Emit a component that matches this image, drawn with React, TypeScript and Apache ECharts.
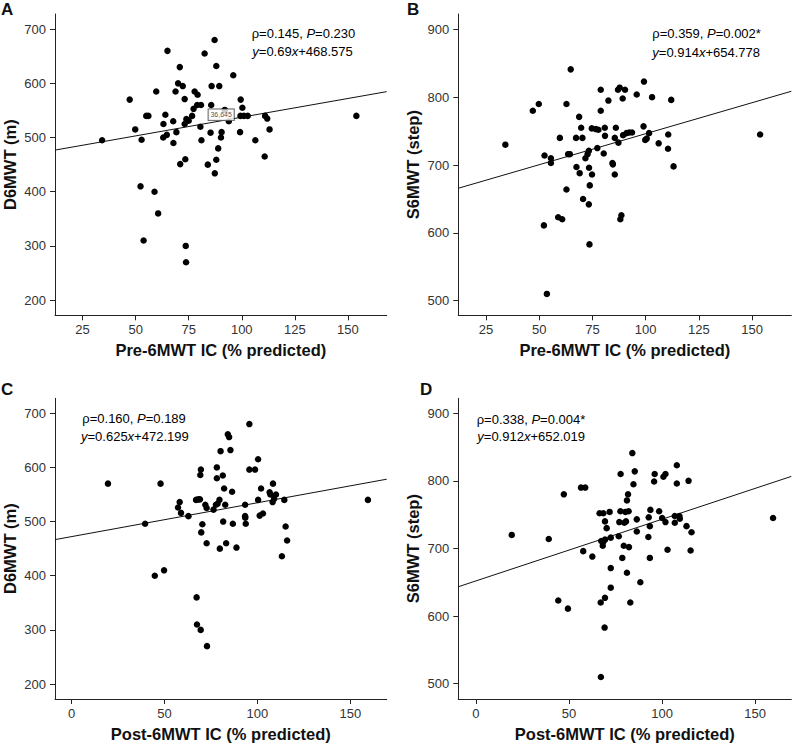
import React, { useEffect, useRef } from "react";
import * as echarts from "echarts";

// ---------- Data ----------
// Panel A: Pre-6MWT IC (% predicted) vs D6MWT (m)
const pointsA: number[][] = [
  [34.2, 495], [47.2, 570], [49.8, 515], [52.8, 496], [55, 540], [56, 540], [59.7, 585], [64, 542],
  [65, 660], [63.1, 525], [63, 500], [64.7, 505], [67.7, 530], [67.8, 490], [69.2, 510], [70, 600],
  [70.8, 630], [72.2, 595], [68.8, 585], [71, 451], [73.4, 460], [73.1, 571], [73.1, 525], [73.9, 534],
  [75, 531], [76.6, 540], [77.8, 585], [79.2, 579], [77.3, 553], [79, 560], [80.8, 560], [80.5, 520],
  [81, 495], [82.5, 655], [84, 450], [85.3, 509], [85.6, 560], [85.8, 595], [87.2, 680], [88, 632],
  [89.4, 595], [87.3, 434], [88, 459], [88.9, 480], [90.2, 500], [90.5, 510], [92, 551], [93.9, 530],
  [96, 615], [99.5, 570], [100.3, 555], [99.4, 540], [101, 540], [102.8, 540], [99.2, 510], [106.4, 495],
  [111, 540], [112, 535], [110.8, 465], [113.1, 515], [154, 540], [52.3, 410], [58.9, 400], [60.6, 360],
  [53.75, 310], [73.6, 300], [73.75, 270],
];
// Panel B: Pre-6MWT IC (% predicted) vs S6MWT (step)
const pointsB: number[][] = [
  [34.1, 730], [47, 780], [49.8, 790], [52.5, 714], [55.5, 710], [55.5, 703], [59.7, 740], [62.8, 790],
  [64.8, 841], [63.6, 716], [64.4, 716], [67.5, 697], [68.75, 771], [69.7, 755], [67.3, 740], [70.3, 740],
  [69, 688], [71.7, 710], [72.7, 716], [73.3, 721], [73.4, 696], [74.8, 686], [74.7, 754], [76.6, 753],
  [77.8, 752], [77.3, 725], [78.9, 811], [78.9, 780], [80.3, 717], [80.8, 755], [80.9, 743], [82.5, 795],
  [84.4, 703], [84.6, 701], [85.5, 686], [85.5, 740], [86, 755], [87.2, 733], [87, 811], [87.8, 814],
  [90.3, 811], [89.2, 798], [89.4, 744], [91, 747], [92.3, 748], [93.6, 748], [95.8, 804], [99.2, 823],
  [99, 757], [99.8, 737], [100.5, 739], [101.6, 747], [103, 800], [106.1, 732], [110.6, 745], [110.5, 724],
  [112, 796], [113.1, 698], [153.75, 745], [62.8, 664], [73.75, 670], [70.6, 650], [73.3, 642], [58.9, 623],
  [60.8, 620], [52.2, 611], [88.6, 626], [88.1, 620], [73.6, 583], [53.6, 510],
];
// Panel C: Post-6MWT IC (% predicted) vs D6MWT (m)
const pointsC: number[][] = [
  [19.6, 570], [39.6, 496], [47.9, 570], [57.3, 526], [58.2, 536], [58.9, 516], [62.9, 510], [67, 540],
  [68.2, 541], [69.1, 541], [69.6, 596], [69.3, 586], [70.4, 495], [69.8, 480], [72, 531], [72.7, 525],
  [72.7, 460], [76.4, 522], [77.7, 531], [78.6, 533], [78.2, 600], [78.2, 580], [80.2, 630], [79.6, 540],
  [81.4, 585], [81.6, 500], [82.1, 561], [82.7, 531], [83.2, 460], [84.1, 661], [84.8, 656], [85.5, 632],
  [86.4, 555], [86.8, 496], [79.8, 450], [88.75, 452], [93.4, 531], [93.4, 510], [93.75, 496], [93.5, 507],
  [95.7, 680], [95.7, 596], [98.75, 596], [100.4, 615], [102, 561], [100.4, 540], [101.25, 511], [103, 515],
  [106.6, 554], [107, 550], [108.4, 570], [108.2, 536], [109, 542], [110, 550], [114.5, 540], [115.2, 491],
  [116, 465], [159.5, 540], [113.2, 436], [44.8, 400], [49.8, 410], [67.3, 360], [67.5, 310], [69.5, 300],
  [72.9, 270],
];
// Panel D: Post-6MWT IC (% predicted) vs S6MWT (step)
const pointsD: number[][] = [
  [19.2, 720], [39.1, 714], [47.2, 780], [56.4, 790], [58.7, 790], [66.4, 752], [68.4, 752], [71.8, 754],
  [69.3, 740], [70.2, 730], [67.3, 711], [68.4, 710], [69.3, 713], [68.1, 704], [72.4, 716], [76.7, 718],
  [77.7, 810], [77.6, 755], [80.3, 754], [77, 739], [79.7, 738], [80.6, 740], [82, 755], [81.7, 780],
  [81.1, 771], [84, 841], [85.3, 814], [84.6, 795], [86.4, 743], [86.4, 725], [79.4, 704], [82.2, 702],
  [92.8, 746], [93.7, 757], [93.4, 733], [92.6, 717], [95.7, 799], [96, 810], [100.7, 806], [101.8, 810],
  [98.4, 755], [100, 745], [101.8, 739], [107.9, 823], [107.9, 796], [106.8, 748], [109.3, 748], [109.5, 744],
  [106.8, 738], [114.2, 800], [113.1, 733], [115.8, 724], [159.6, 745], [57.6, 696], [62.5, 688], [78.6, 686],
  [72.4, 671], [81.1, 664], [88.3, 650], [93.4, 686], [102.9, 698], [115.3, 697], [72.4, 642], [44.2, 623],
  [49.4, 611], [67, 620], [69.3, 627], [82.9, 620], [69.1, 583], [67.1, 510],
];

// Fitted regression lines as printed on the chart: [slope, intercept]
const fitA = [0.69, 468.575];
const fitB = [0.914, 654.778];
const fitC = [0.625, 472.199];
const fitD = [0.912, 652.019];

// Annotation texts
const rhoTexts = ["0.145", "0.359", "0.160", "0.338"];
const pTexts = ["0.230", "0.002*", "0.189", "0.004*"];
const slopeTexts = ["0.69", "0.914", "0.625", "0.912"];
const interceptTexts = ["468.575", "654.778", "472.199", "652.019"];
const panelLetters = ["A", "B", "C", "D"];

// Labelled case in panel A
const caseLabelA = "36,645";
const caseLabelPosA = [90.3, 542];

// Tick labels
const xTicksPre = [25, 50, 75, 100, 125, 150];
const xTicksPost = [0, 50, 100, 150];
const yTicksDist = [200, 300, 400, 500, 600, 700];
const yTicksStep = [500, 600, 700, 800, 900];

const xTitlePre = "Pre-6MWT IC (% predicted)";
const xTitlePost = "Post-6MWT IC (% predicted)";
const yTitleDist = "D6MWT (m)";
const yTitleStep = "S6MWT (step)";

const FONT = "'Liberation Sans', Arial, Helvetica, sans-serif";

export default function App() {
  const ref = useRef<HTMLDivElement>(null);

  useEffect(() => {
    if (!ref.current) return;
    const chart = echarts.init(ref.current, undefined, { renderer: "svg" });

    const grids = [
      { left: 53.3, top: 14, width: 333.4, height: 301.3 },
      { left: 458.3, top: 14, width: 333, height: 301.3 },
      { left: 53.3, top: 398.3, width: 333.4, height: 301.7 },
      { left: 458.3, top: 398.3, width: 333, height: 301.7 },
    ];
    const xRanges = [
      [12, 168.3],
      [12, 168.4],
      [-8.9, 169.6],
      [-9.5, 169.4],
    ];
    const yRanges = [
      [172, 728],
      [478.5, 922.6],
      [172.4, 727.6],
      [477.4, 922],
    ];
    const xTicks = [xTicksPre, xTicksPre, xTicksPost, xTicksPost];
    const yTicks = [yTicksDist, yTicksStep, yTicksDist, yTicksStep];
    const xTitles = [xTitlePre, xTitlePre, xTitlePost, xTitlePost];
    const yTitles = [yTitleDist, yTitleStep, yTitleDist, yTitleStep];
    const pts = [pointsA, pointsB, pointsC, pointsD];
    const fits = [fitA, fitB, fitC, fitD];

    const axisLine = { show: true, onZero: false, lineStyle: { color: "#222", width: 1 } };
    const axisTickBase = { show: true, length: 5, lineStyle: { color: "#222", width: 1 } };
    const labelBase = { color: "#333", fontSize: 13, fontFamily: FONT };
    const nameBase = { color: "#111", fontSize: 16.5, fontWeight: "bold" as const, fontFamily: FONT };

    const xAxis = grids.map((_, i) => ({
      type: "value",
      gridIndex: i,
      min: xRanges[i][0],
      max: xRanges[i][1],
      axisLine,
      axisTick: { ...axisTickBase, customValues: xTicks[i] },
      axisLabel: { ...labelBase, margin: 8, customValues: xTicks[i] },
      splitLine: { show: false },
      name: xTitles[i],
      nameLocation: "middle",
      nameGap: 26,
      nameTextStyle: nameBase,
    }));
    const yAxis = grids.map((_, i) => ({
      type: "value",
      gridIndex: i,
      min: yRanges[i][0],
      max: yRanges[i][1],
      axisLine,
      axisTick: { ...axisTickBase, customValues: yTicks[i] },
      axisLabel: { ...labelBase, margin: 9, customValues: yTicks[i] },
      splitLine: { show: false },
      name: yTitles[i],
      nameLocation: "middle",
      nameGap: 37,
      nameTextStyle: nameBase,
    }));

    const series: any[] = [];
    pts.forEach((p, i) => {
      const [a, b] = fits[i];
      const [x0, x1] = xRanges[i];
      series.push({
        type: "line",
        xAxisIndex: i,
        yAxisIndex: i,
        data: [
          [x0, a * x0 + b],
          [x1, a * x1 + b],
        ],
        symbol: "none",
        silent: true,
        clip: true,
        lineStyle: { color: "#111", width: 1 },
        z: 2,
      });
      series.push({
        type: "scatter",
        xAxisIndex: i,
        yAxisIndex: i,
        data: p,
        symbol: "circle",
        symbolSize: 6.5,
        itemStyle: { color: "#000", opacity: 1 },
        z: 3,
      });
    });
    series.push({
      type: "scatter",
      xAxisIndex: 0,
      yAxisIndex: 0,
      data: [caseLabelPosA],
      symbolSize: 1,
      itemStyle: { color: "rgba(0,0,0,0)" },
      z: 5,
      label: {
        show: true,
        position: "inside",
        formatter: caseLabelA,
        fontSize: 7,
        fontFamily: FONT,
        color: "#222",
        backgroundColor: "#fff",
        borderColor: "#222",
        borderWidth: 0.8,
        padding: [2, 2, 2, 2],
      },
    });

    const rich = {
      n: { fontSize: 13, fontFamily: FONT, color: "#1a1a1a" },
      i: { fontSize: 13, fontFamily: FONT, color: "#1a1a1a", fontStyle: "italic" },
    };
    const annPos = [
      [251.7, 33.3, 252.3, 51.7],
      [652.3, 33.3, 652.3, 52],
      [82.3, 418.3, 81, 436],
      [476.7, 419.5, 477.3, 436],
    ];
    const letterPos = [
      [1, 9],
      [407, 9],
      [1, 389.5],
      [420, 389.5],
    ];
    const graphic: any[] = [];
    for (let i = 0; i < 4; i++) {
      graphic.push({
        type: "text",
        x: annPos[i][0],
        y: annPos[i][1],
        style: {
          text: `{n|ρ=${rhoTexts[i]}, }{i|P}{n|=${pTexts[i]}}`,
          rich,
          align: "left",
          verticalAlign: "middle",
        },
        z: 10,
      });
      graphic.push({
        type: "text",
        x: annPos[i][2],
        y: annPos[i][3],
        style: {
          text: `{i|y}{n|=${slopeTexts[i]}}{i|x}{n|+${interceptTexts[i]}}`,
          rich,
          align: "left",
          verticalAlign: "middle",
        },
        z: 10,
      });
      graphic.push({
        type: "text",
        x: letterPos[i][0],
        y: letterPos[i][1],
        style: {
          text: panelLetters[i],
          font: `bold 17px ${FONT}`,
          fill: "#111",
          align: "left",
          verticalAlign: "middle",
        },
        z: 10,
      });
    }

    chart.setOption({
      animation: false,
      backgroundColor: "#fff",
      grid: grids,
      xAxis,
      yAxis,
      series,
      graphic,
    });

    return () => chart.dispose();
  }, []);

  return (
    <div
      ref={ref}
      style={{ position: "absolute", left: 0, top: 0, width: 792, height: 743 }}
    />
  );
}
